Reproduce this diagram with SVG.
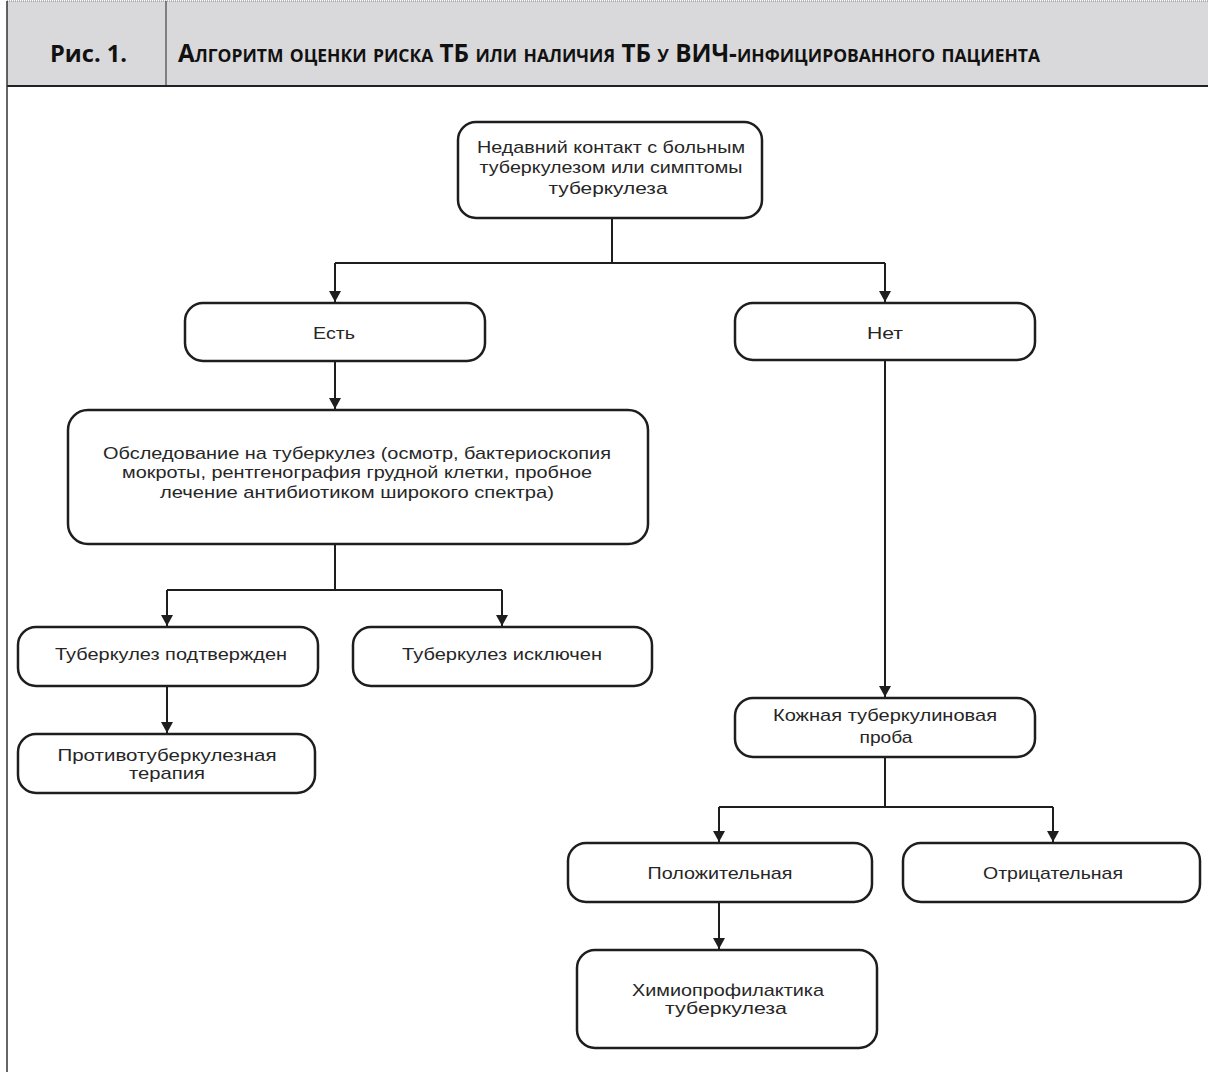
<svg xmlns="http://www.w3.org/2000/svg" width="1208" height="1076" viewBox="0 0 1208 1076">
<defs>
<style>
.box{fill:#fff;stroke:#1e1e1e;stroke-width:2.5}
.t{font-family:"Liberation Sans",Arial,sans-serif;font-size:17px;fill:#262626;text-anchor:middle}
.c{fill:none;stroke:#1e1e1e;stroke-width:2}
.hdr{font-family:"Open Sans","DejaVu Sans",sans-serif;font-weight:bold;fill:#111}
</style>
<marker id="ah" markerUnits="userSpaceOnUse" markerWidth="14" markerHeight="14" refX="11" refY="6" orient="auto">
<path d="M0,0 L11,6 L0,12 z" fill="#1e1e1e"/>
</marker>
</defs>
<rect width="1208" height="1076" fill="#fff"/>
<g id="header">
<rect x="7" y="1" width="1201" height="85" fill="#d9d9db"/>
<line x1="7" y1="1" x2="1208" y2="1" stroke="#777" stroke-width="1" stroke-dasharray="1,1"/>
<line x1="166" y1="1" x2="166" y2="86" stroke="#444" stroke-width="1.2"/>
<line x1="7" y1="86" x2="1208" y2="86" stroke="#222" stroke-width="2"/>
<line x1="7" y1="1" x2="7" y2="1072" stroke="#333" stroke-width="1.5"/>
<text class="hdr" x="50" y="62" font-size="24" textLength="77" lengthAdjust="spacingAndGlyphs">Рис. 1.</text>
<text class="hdr" x="178" y="62" font-size="25" font-variant="small-caps" textLength="862" lengthAdjust="spacingAndGlyphs">Алгоритм оценки риска ТБ или наличия ТБ у ВИЧ-инфицированного пациента</text>
</g>
<g id="connectors">
<path class="c" d="M612 218 V263"/>
<path class="c" d="M335 263 H885"/>
<path class="c" d="M335 263 V302" marker-end="url(#ah)"/>
<path class="c" d="M885 263 V302" marker-end="url(#ah)"/>
<path class="c" d="M335 361 V409" marker-end="url(#ah)"/>
<path class="c" d="M335 544 V590"/>
<path class="c" d="M167 590 H502"/>
<path class="c" d="M167 590 V626" marker-end="url(#ah)"/>
<path class="c" d="M502 590 V626" marker-end="url(#ah)"/>
<path class="c" d="M167 686 V733" marker-end="url(#ah)"/>
<path class="c" d="M885 360 V697" marker-end="url(#ah)"/>
<path class="c" d="M885 757 V807"/>
<path class="c" d="M719 807 H1053"/>
<path class="c" d="M719 807 V842" marker-end="url(#ah)"/>
<path class="c" d="M1053 807 V842" marker-end="url(#ah)"/>
<path class="c" d="M719 902 V949" marker-end="url(#ah)"/>
</g>
<g id="n-contact">
<rect class="box" x="458" y="122" width="304" height="96" rx="18"/>
<text class="t" x="611" y="153" textLength="268" lengthAdjust="spacingAndGlyphs">Недавний контакт с больным</text>
<text class="t" x="611" y="173" textLength="263" lengthAdjust="spacingAndGlyphs">туберкулезом или симптомы</text>
<text class="t" x="608" y="194" textLength="119" lengthAdjust="spacingAndGlyphs">туберкулеза</text>
</g>
<g id="n-yes">
<rect class="box" x="185" y="303" width="300" height="58" rx="18"/>
<text class="t" x="334" y="339" textLength="42" lengthAdjust="spacingAndGlyphs">Есть</text>
</g>
<g id="n-no">
<rect class="box" x="735" y="303" width="300" height="57" rx="18"/>
<text class="t" x="885" y="339" textLength="36" lengthAdjust="spacingAndGlyphs">Нет</text>
</g>
<g id="n-exam">
<rect class="box" x="68" y="410" width="580" height="134" rx="20"/>
<text class="t" x="357" y="459" textLength="508" lengthAdjust="spacingAndGlyphs">Обследование на туберкулез (осмотр, бактериоскопия</text>
<text class="t" x="357" y="478" textLength="470" lengthAdjust="spacingAndGlyphs">мокроты, рентгенография грудной клетки, пробное</text>
<text class="t" x="357" y="498" textLength="394" lengthAdjust="spacingAndGlyphs">лечение антибиотиком широкого спектра)</text>
</g>
<g id="n-confirmed">
<rect class="box" x="18" y="627" width="300" height="59" rx="18"/>
<text class="t" x="171" y="660" textLength="232" lengthAdjust="spacingAndGlyphs">Туберкулез подтвержден</text>
</g>
<g id="n-excluded">
<rect class="box" x="353" y="627" width="299" height="59" rx="18"/>
<text class="t" x="502" y="660" textLength="200" lengthAdjust="spacingAndGlyphs">Туберкулез исключен</text>
</g>
<g id="n-therapy">
<rect class="box" x="18" y="734" width="297" height="59" rx="18"/>
<text class="t" x="167" y="761" textLength="219" lengthAdjust="spacingAndGlyphs">Противотуберкулезная</text>
<text class="t" x="167" y="779" textLength="76" lengthAdjust="spacingAndGlyphs">терапия</text>
</g>
<g id="n-skin">
<rect class="box" x="735" y="698" width="300" height="59" rx="18"/>
<text class="t" x="885" y="721" textLength="224" lengthAdjust="spacingAndGlyphs">Кожная туберкулиновая</text>
<text class="t" x="886" y="743" textLength="53" lengthAdjust="spacingAndGlyphs">проба</text>
</g>
<g id="n-positive">
<rect class="box" x="568" y="843" width="304" height="59" rx="18"/>
<text class="t" x="720" y="879" textLength="145" lengthAdjust="spacingAndGlyphs">Положительная</text>
</g>
<g id="n-negative">
<rect class="box" x="903" y="843" width="297" height="59" rx="18"/>
<text class="t" x="1053" y="879" textLength="140" lengthAdjust="spacingAndGlyphs">Отрицательная</text>
</g>
<g id="n-chemo">
<rect class="box" x="577" y="950" width="300" height="98" rx="18"/>
<text class="t" x="728" y="996" textLength="192" lengthAdjust="spacingAndGlyphs">Химиопрофилактика</text>
<text class="t" x="726" y="1014" textLength="122" lengthAdjust="spacingAndGlyphs">туберкулеза</text>
</g>
</svg>
